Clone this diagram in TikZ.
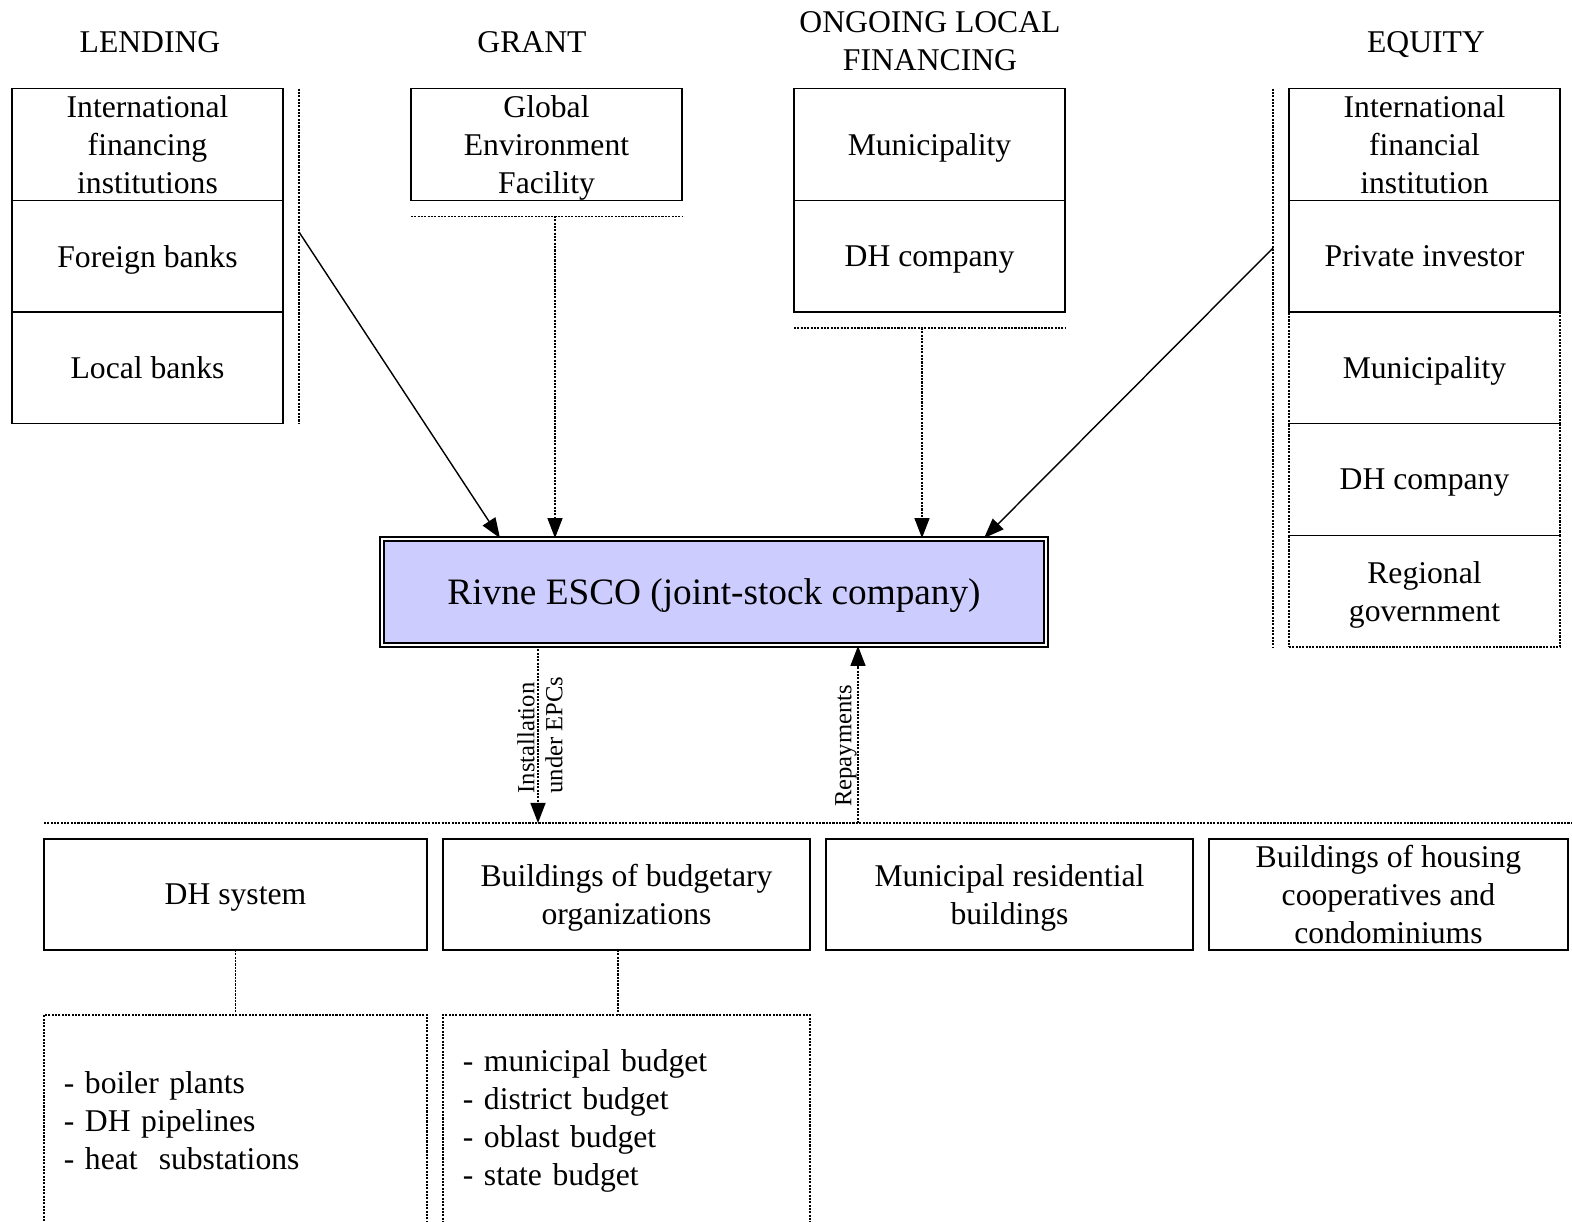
\documentclass[tikz,border=0pt]{standalone}
\usepackage{fontspec}
\setmainfont{Liberation Serif}
\usepackage{xcolor}
\usepackage{tikz}
\usetikzlibrary{arrows.meta,positioning}

\definecolor{escofill}{RGB}{204,204,255}

\tikzset{
	cell/.style={draw,line width=0.45pt,outer sep=0pt,minimum width=2.71cm,minimum height=1.116cm,inner sep=0pt,text depth=0pt,align=center,font=\fontsize{9}{10.8}\selectfont},
	head/.style={align=center,text depth=0pt,font=\fontsize{9}{10.8}\selectfont},
	target/.style={draw,line width=0.45pt,outer sep=0pt,minimum height=1.11cm,inner sep=0pt,text depth=0pt,align=center,font=\fontsize{9}{10.8}\selectfont},
	listbox/.style={draw,dots,outer sep=0pt,minimum height=2.12cm,inner xsep=0.2cm,inner ysep=0pt,align=left,font=\fontsize{9}{10.8}\selectfont},
	dots/.style={dash pattern=on 0.6pt off 0.35pt},
	arr/.style={-{Triangle[length=0.2cm,width=0.15cm]}},
	lbl/.style={rotate=90,inner sep=1pt,font=\fontsize{7}{8}\selectfont}
}

\begin{document}
\begin{tikzpicture}[x=0.01cm,y=-0.01cm]
	\useasboundingbox (0,0) rectangle (1572,1222);

	\node[head] (hlend) at (150,42) {LENDING};
	\node[head] (hgrant) at (532,42) {GRANT};
	\node[head] (hlocal) at (930,41) {ONGOING LOCAL\\FINANCING};
	\node[head] (hequity) at (1426,42) {EQUITY};

	\node[cell] (lend1) at (147.5,144.5) {International\\financing\\institutions};
	\node[cell,below=0pt of lend1] (lend2) {Foreign banks};
	\node[cell,below=0pt of lend2] (lend3) {Local banks};
	\draw[dots] ([xshift=0.16cm]lend1.north east) -- ([xshift=0.16cm]lend3.south east);

	\node[cell] (gef) at (546.5,144.5) {Global\\Environment\\Facility};
	\draw[dots] ([yshift=-0.16cm]gef.south west) -- ([yshift=-0.16cm]gef.south east);

	\node[cell] (loc1) at (929.5,144.5) {Municipality};
	\node[cell,below=0pt of loc1] (loc2) {DH company};
	\draw[dots] ([yshift=-0.16cm]loc2.south west) -- ([yshift=-0.16cm]loc2.south east);

	\node[cell] (eq1) at (1424.5,144.5) {International\\financial\\institution};
	\node[cell,below=0pt of eq1] (eq2) {Private investor};
	\node[cell,dots,below=0pt of eq2] (eq3) {Municipality};
	\node[cell,dots,below=0pt of eq3] (eq4) {DH company};
	\node[cell,dots,below=0pt of eq4] (eq5) {Regional\\government};
	\draw[line width=0.45pt] (eq3.north west) -- (eq3.north east);
	\draw[line width=0.45pt] (eq4.north west) -- (eq4.north east);
	\draw[line width=0.45pt] (eq5.north west) -- (eq5.north east);
	\draw[dots] ([xshift=-0.16cm]eq1.north west) -- ([xshift=-0.16cm]eq5.south west);

	\node[draw,double,line width=0.5pt,double distance=0.7pt,fill=escofill,minimum width=6.64cm,minimum height=1.06cm,text depth=0pt,font=\fontsize{10.6}{12}\selectfont] (esco) at (714,592) {Rivne ESCO (joint-stock company)};

	\coordinate (lendout) at (299,232);
	\coordinate (grantout) at (555,216);
	\coordinate (localout) at (922,328);
	\coordinate (equityout) at (1273,248);
	\draw[arr] (lendout) -- ([xshift=1.19cm]esco.north west);
	\draw[dots,arr] (grantout) -- (grantout |- esco.north);
	\draw[dots,arr] (localout) -- (localout |- esco.north);
	\draw[arr] (equityout) -- ([xshift=-0.63cm]esco.north east);

	\coordinate (busleft) at (44,823);
	\coordinate (busright) at (1572,823);
	\draw[dots] (busleft) -- (busright);

	\coordinate (install) at (538,823);
	\coordinate (repay) at (858,823);
	\draw[dots,arr] (install |- esco.south) -- (install);
	\draw[dots,arr] (repay) -- (repay |- esco.south);
	\node[lbl,align=left] (installtxt) at (540,735) {Installation\\under EPCs};
	\node[lbl] (repaytxt) at (846,746) {Repayments};

	\node[target,minimum width=3.83cm] (dhsys) at (235.5,894.5) {DH system};
	\node[target,minimum width=3.67cm] (budget) at (626.5,894.5) {Buildings of budgetary\\organizations};
	\node[target,minimum width=3.67cm] (munres) at (1009.5,894.5) {Municipal residential\\buildings};
	\node[target,minimum width=3.59cm] (coop) at (1388.5,894.5) {Buildings of housing\\cooperatives and\\condominiums};

	\node[listbox,text width=3.43cm] (dhlist) at (235.5,1121) {- boiler plants\\- DH pipelines\\- heat\ \ substations};
	\node[listbox,text width=3.27cm] (budlist) at (626.5,1121) {- municipal budget\\- district budget\\- oblast budget\\- state budget};
	\draw[dots] (dhsys.south) -- (dhlist.north);
	\draw[dots] ([xshift=-0.085cm]budget.south) -- ([xshift=-0.085cm]budlist.north);
\end{tikzpicture}
\end{document}
